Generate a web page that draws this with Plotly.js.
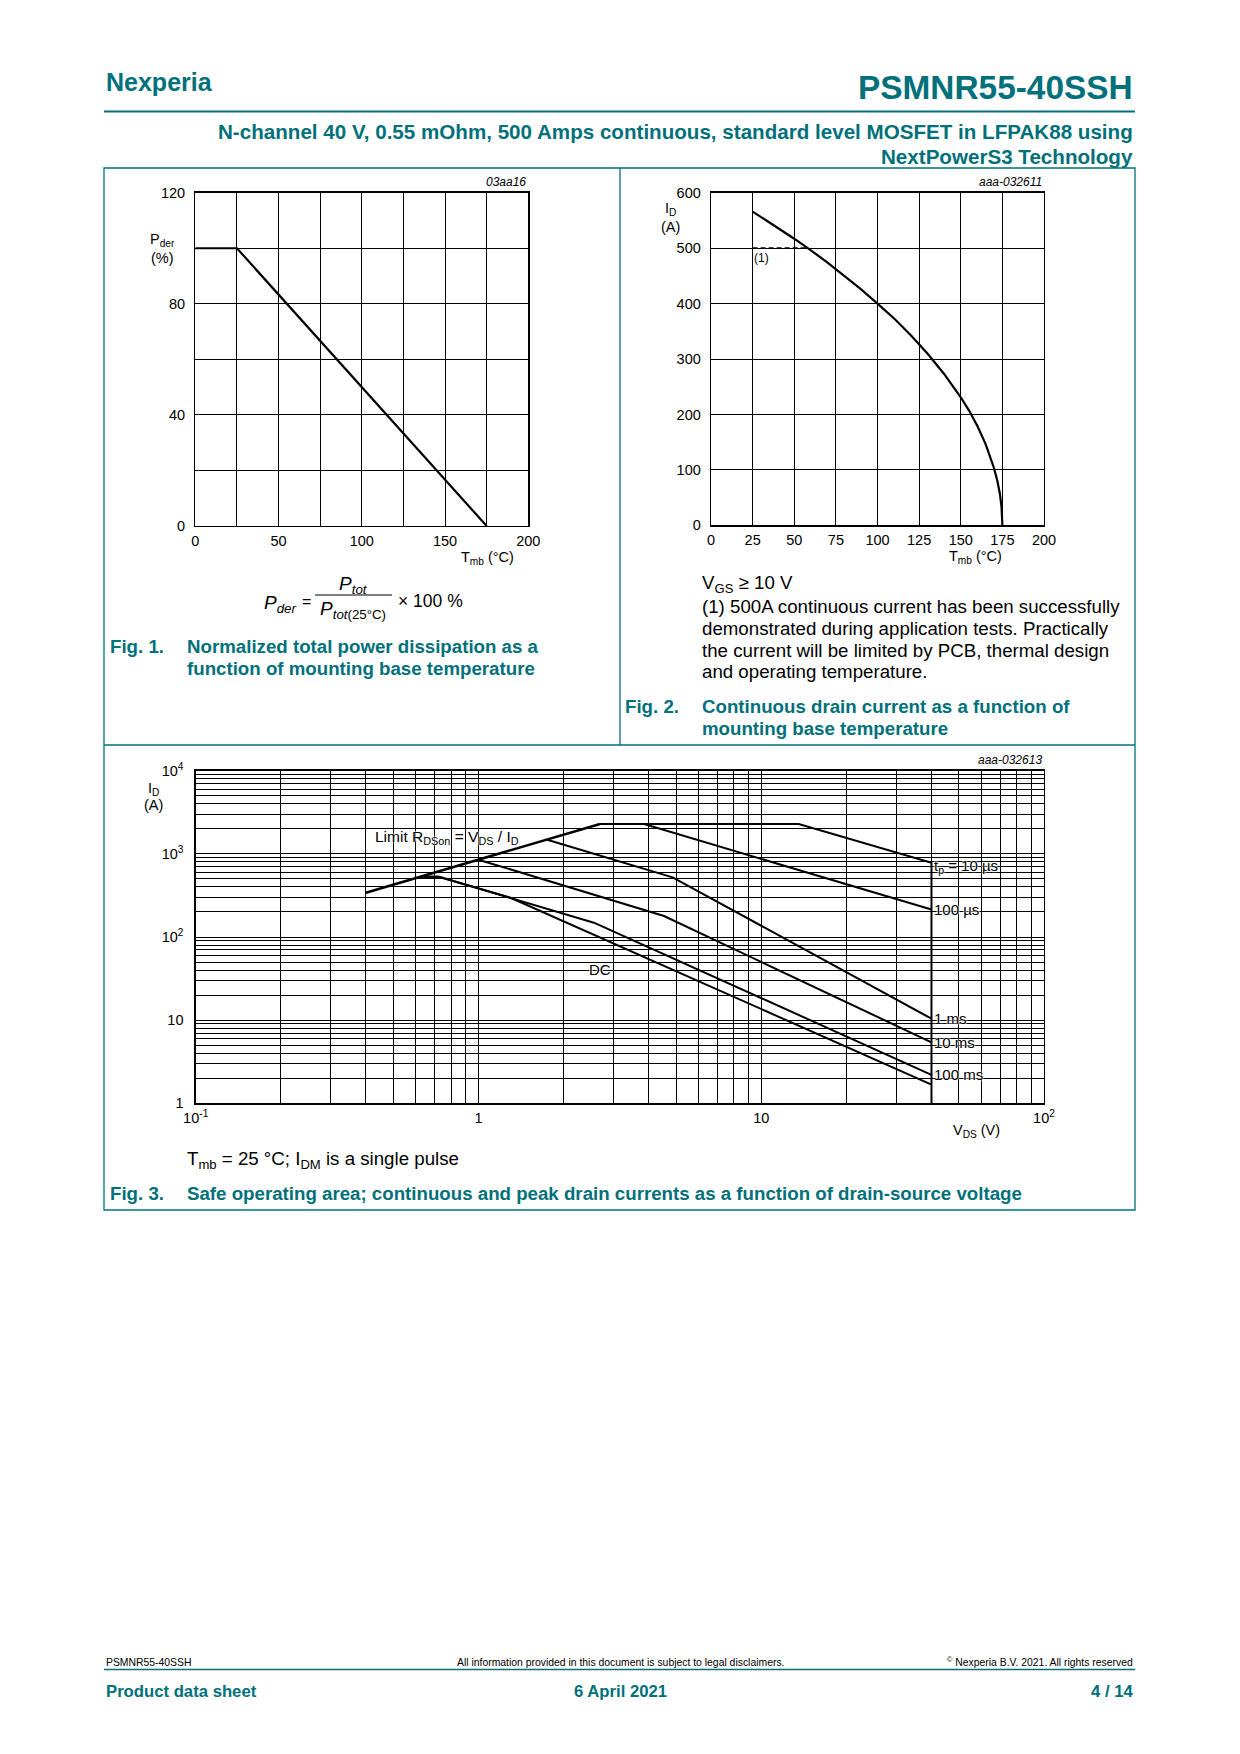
<!DOCTYPE html>
<html><head><meta charset="utf-8">
<script src="https://cdn.plot.ly/plotly-3.0.1.min.js"></script>
<style>html,body{margin:0;padding:0;background:#fff}#chart{width:1240px;height:1754px}</style>
</head><body><div id="chart"></div>
<script>
// ---------- DATA ----------
// Fig. 1 : normalized total power dissipation
const fig1Temp = [0, 25, 175];
const fig1Pder = [100, 100, 0];
const fig1XTicks = [0, 50, 100, 150, 200];
const fig1YTicks = [0, 40, 80, 120];

// Fig. 2 : continuous drain current vs mounting base temperature
const fig2Temp = [25, 35, 40, 50, 60, 70, 80, 90, 100, 110, 120, 130, 140, 150, 155, 160, 165, 168, 170, 172, 173.5, 174.5, 174.9, 175];
const fig2Id   = [566, 547, 537, 517, 496, 474, 450, 426, 400, 373, 343, 310, 273, 231, 207, 179, 146, 122, 103, 80, 57, 33, 15, 0];
const fig2NoteTemp = [25, 56.5];
const fig2NoteId = [500, 500];
const fig2XTicks = [0, 25, 50, 75, 100, 125, 150, 175, 200];
const fig2YTicks = [0, 100, 200, 300, 400, 500, 600];

// Fig. 3 : safe operating area (VDS in V, ID in A)
const soaLimitV = [0.4, 2.69];
const soaLimitI = [341, 2286];
const soa10usV = [2.69, 13.57, 40, 40];
const soa10usI = [2286, 2286, 783, 1];
const soa100usV = [3.85, 40];
const soa100usI = [2286, 214];
const soa1msV = [1.75, 4.86, 40];
const soa1msI = [1480, 522, 10.4];
const soa10msV = [1.0, 2.935, 4.53, 40];
const soa10msI = [851, 279, 179, 5.4];
const soa100msV = [0.622, 0.724, 2.56, 40];
const soa100msI = [531, 531, 148.6, 2.2];
const soaDcV = [0.622, 0.724, 1.298, 40];
const soaDcI = [531, 531, 296, 1.68];
const soaEndLabels = ['t<sub>p</sub> = 10 µs', '100 µs', '1 ms', '10 ms', '100 ms'];
const fig3XTicks = [0.1, 1, 10, 100];
const fig3XTickText = ['10<sup>-1</sup>', '1', '10', '10<sup>2</sup>'];
const fig3YTicks = [1, 10, 100, 1000, 10000];
const fig3YTickText = ['1', '10', '10<sup>2</sup>', '10<sup>3</sup>', '10<sup>4</sup>'];

// ---------- LAYOUT HELPERS ----------
const W = 1240, H = 1754;
const px = x => x / W;
const py = y => 1 - y / H;
const TEAL = '#00707a';
const FONT = 'Liberation Sans, Arial, Helvetica, sans-serif';
const SHADOW = '0 0 2px #fff, 0 0 2px #fff, 0 0 2px #fff';
const CAP = 18.7;   // caption / note size
const TICK = 14.5;  // tick label size

function minorLog(lo, hi) {
  const v = [];
  for (let e = lo; e < hi; e++) for (let m = 2; m <= 9; m++) v.push(m * Math.pow(10, e));
  return v;
}

const baseAxis = {
  showline: true, mirror: true, linecolor: '#000', linewidth: 1.3,
  showgrid: true, gridcolor: '#000', gridwidth: 1,
  zeroline: false, ticks: '', fixedrange: true,
  tickfont: {family: FONT, size: TICK, color: '#000'},
  ticklabelstandoff: 1
};

const line = (x, y, xa, ya, w) => ({x, y, xaxis: xa, yaxis: ya, type: 'scatter', mode: 'lines',
  line: {color: '#000', width: w}, hoverinfo: 'skip', showlegend: false});

const traces = [
  line(fig1Temp, fig1Pder, 'x', 'y', 2.2),
  line(fig2Temp, fig2Id, 'x2', 'y2', 2.2),
  Object.assign(line(fig2NoteTemp, fig2NoteId, 'x2', 'y2', 1.6), {line: {color: '#000', width: 1.6, dash: '5px,3px'}}),
  line(soaLimitV, soaLimitI, 'x3', 'y3', 2.6),
  line(soa10usV, soa10usI, 'x3', 'y3', 2),
  line(soa100usV, soa100usI, 'x3', 'y3', 2),
  line(soa1msV, soa1msI, 'x3', 'y3', 2),
  line(soa10msV, soa10msI, 'x3', 'y3', 2),
  line(soa100msV, soa100msI, 'x3', 'y3', 2),
  line(soaDcV, soaDcI, 'x3', 'y3', 2)
];

const layout = {
  width: W, height: H, margin: {l: 0, r: 0, t: 0, b: 0},
  paper_bgcolor: '#fff', plot_bgcolor: '#fff', showlegend: false,
  font: {family: FONT, color: '#000'},
  xaxis: Object.assign({}, baseAxis, {domain: [px(195.3), px(528.3)], anchor: 'y', range: [0, 200],
    tickmode: 'array', tickvals: fig1XTicks, minor: {dtick: 25, tick0: 0, showgrid: true, gridcolor: '#000', gridwidth: 1}}),
  yaxis: Object.assign({}, baseAxis, {domain: [py(526), py(192.7)], anchor: 'x', range: [0, 120],
    tickmode: 'array', tickvals: fig1YTicks, ticklabelstandoff: 6,
    minor: {dtick: 20, tick0: 0, showgrid: true, gridcolor: '#000', gridwidth: 1}}),
  xaxis2: Object.assign({}, baseAxis, {domain: [px(711), px(1044)], anchor: 'y2', range: [0, 200],
    tickmode: 'array', tickvals: fig2XTicks}),
  yaxis2: Object.assign({}, baseAxis, {domain: [py(525.3), py(192.7)], anchor: 'x2', range: [0, 600],
    tickmode: 'array', tickvals: fig2YTicks, ticklabelstandoff: 6}),
  xaxis3: Object.assign({}, baseAxis, {domain: [px(195.7), px(1044)], anchor: 'y3', type: 'log', range: [-1, 2],
    tickmode: 'array', tickvals: fig3XTicks, ticktext: fig3XTickText,
    minor: {tickmode: 'array', tickvals: minorLog(-1, 2), showgrid: true, gridcolor: '#000', gridwidth: 1}}),
  yaxis3: Object.assign({}, baseAxis, {domain: [py(1103.3), py(770.7)], anchor: 'x3', type: 'log', range: [0, 4],
    tickmode: 'array', tickvals: fig3YTicks, ticktext: fig3YTickText, ticklabelstandoff: 8,
    minor: {tickmode: 'array', tickvals: minorLog(0, 4), showgrid: true, gridcolor: '#000', gridwidth: 1}}),
  shapes: [],
  annotations: []
};

const S = layout.shapes, A = layout.annotations;
function hline(x0, x1, y, color, w) { S.push({type: 'line', xref: 'paper', yref: 'paper', x0: px(x0), x1: px(x1), y0: py(y), y1: py(y), line: {color, width: w}}); }
function vline(x, y0, y1, color, w) { S.push({type: 'line', xref: 'paper', yref: 'paper', x0: px(x), x1: px(x), y0: py(y0), y1: py(y1), line: {color, width: w}}); }
function txt(text, x, y, opt) {
  opt = opt || {};
  A.push({xref: 'paper', yref: 'paper', x: px(x), y: py(y), text, showarrow: false,
    xanchor: opt.xa || 'left', yanchor: 'middle', align: opt.align || 'left',
    font: {family: FONT, size: opt.size || CAP, color: opt.color || '#000', weight: opt.weight || 'normal', style: opt.style || 'normal'}});
}

// header
txt('Nexperia', 104, 82, {size: 25, weight: 'bold', color: TEAL});
txt('PSMNR55-40SSH', 1135, 87, {size: 33.4, weight: 'bold', color: TEAL, xa: 'right'});
hline(104, 1135, 111.5, TEAL, 2);
txt('N-channel 40 V, 0.55 mOhm, 500 Amps continuous, standard level MOSFET in LFPAK88 using', 1135, 131, {size: 20.6, weight: 'bold', color: TEAL, xa: 'right'});
txt('NextPowerS3 Technology', 1135, 156.5, {size: 20.6, weight: 'bold', color: TEAL, xa: 'right'});

// frame
S.push({type: 'rect', xref: 'paper', yref: 'paper', x0: px(104), x1: px(1135), y0: py(1210), y1: py(168), line: {color: TEAL, width: 1.3}});
vline(620, 168, 745, TEAL, 1.3);
hline(104, 1135, 745, TEAL, 1.3);

// Fig. 1 texts
txt('03aa16', 528, 182, {size: 12, style: 'italic', xa: 'right'});
txt('P<sub>der</sub>', 162, 240, {size: TICK, xa: 'center'});
txt('(%)', 162, 258, {size: TICK, xa: 'center'});
txt('T<sub>mb</sub> (°C)', 487, 558, {size: TICK, xa: 'center'});
txt('<i>P</i><sub><i>der</i></sub>', 298, 604, {size: 19, xa: 'right'});
txt('=', 306, 601, {size: 16, xa: 'center'});
txt('<i>P</i><sub><i>tot</i></sub>', 353, 585, {size: 19, xa: 'center'});
txt('<i>P</i><sub><i>tot</i>(25°C)</sub>', 353, 610, {size: 19, xa: 'center'});
hline(315, 392, 595, '#000', 1);
txt('× 100 %', 396, 601, {size: 17.5});
txt('Fig. 1.', 108, 646, {weight: 'bold', color: TEAL});
txt('Normalized total power dissipation as a', 185, 646, {weight: 'bold', color: TEAL});
txt('function of mounting base temperature', 185, 668, {weight: 'bold', color: TEAL});

// Fig. 2 texts
txt('aaa-032611', 1044, 182, {size: 12, style: 'italic', xa: 'right'});
txt('I<sub>D</sub>', 670, 209, {size: TICK, xa: 'center'});
txt('(A)', 670, 227, {size: TICK, xa: 'center'});
txt('T<sub>mb</sub> (°C)', 975, 557, {size: TICK, xa: 'center'});
A.push({xref: 'x2', yref: 'y2', x: fig2NoteTemp[0], y: 483, text: '(1)', showarrow: false, xanchor: 'left', yanchor: 'middle',
  bgcolor: '#fff', borderpad: 0, font: {family: FONT, size: 12, color: '#000'}});
txt('V<sub>GS</sub> ≥ 10 V', 700, 584);
txt('(1) 500A continuous current has been successfully', 700, 606);
txt('demonstrated during application tests. Practically', 700, 628);
txt('the current will be limited by PCB, thermal design', 700, 650);
txt('and operating temperature.', 700, 672);
txt('Fig. 2.', 623, 706, {weight: 'bold', color: TEAL});
txt('Continuous drain current as a function of', 700, 706, {weight: 'bold', color: TEAL});
txt('mounting base temperature', 700, 728, {weight: 'bold', color: TEAL});

// Fig. 3 texts
txt('aaa-032613', 1044, 760, {size: 12, style: 'italic', xa: 'right'});
txt('I<sub>D</sub>', 153, 789, {size: TICK, xa: 'center'});
txt('(A)', 153, 805, {size: TICK, xa: 'center'});
txt('V<sub>DS</sub> (V)', 976, 1131, {size: TICK, xa: 'center'});
const endI = [soa10usI[2], soa100usI[1], soa1msI[2], soa10msI[3], soa100msI[3]];
const shiftY = [-4, 0, 0, 0, 0];
soaEndLabels.forEach((t, i) => {
  A.push({xref: 'x3', yref: 'y3', x: Math.log10(40), y: Math.log10(endI[i]), text: t, showarrow: false,
    xanchor: 'left', yanchor: 'middle', xshift: 1, yshift: shiftY[i],
    font: {family: FONT, size: 15, color: '#000', shadow: SHADOW}});
});
A.push({xref: 'x3', yref: 'y3', x: Math.log10(0.425), y: Math.log10(1594), text: 'Limit R<sub>DSon</sub> = V<sub>DS</sub> / I<sub>D</sub>',
  showarrow: false, xanchor: 'left', yanchor: 'middle', font: {family: FONT, size: 15.5, color: '#000', shadow: SHADOW}});
A.push({xref: 'x3', yref: 'y3', x: Math.log10(2.68), y: Math.log10(40.9), text: 'DC',
  showarrow: false, xanchor: 'center', yanchor: 'middle', font: {family: FONT, size: 15, color: '#000', shadow: SHADOW}});
txt('T<sub>mb</sub> = 25 °C; I<sub>DM</sub> is a single pulse', 185, 1160);
txt('Fig. 3.', 108, 1193, {weight: 'bold', color: TEAL});
txt('Safe operating area; continuous and peak drain currents as a function of drain-source voltage', 185, 1193, {weight: 'bold', color: TEAL});

// footer
txt('PSMNR55-40SSH', 104, 1662, {size: 10.4});
txt('All information provided in this document is subject to legal disclaimers.', 620, 1662, {size: 10.4, xa: 'center'});
txt('<sup>©</sup> Nexperia B.V. 2021. All rights reserved', 1135, 1661, {size: 10.4, xa: 'right'});
hline(104, 1135, 1669.5, TEAL, 1.5);
txt('Product data sheet', 104, 1691, {size: 16.7, weight: 'bold', color: TEAL});
txt('6 April 2021', 620, 1691, {size: 16.7, weight: 'bold', color: TEAL, xa: 'center'});
txt('4 / 14', 1135, 1691, {size: 16.7, weight: 'bold', color: TEAL, xa: 'right'});

Plotly.newPlot('chart', traces, layout, {staticPlot: true, displayModeBar: false});
</script>
</body></html>
